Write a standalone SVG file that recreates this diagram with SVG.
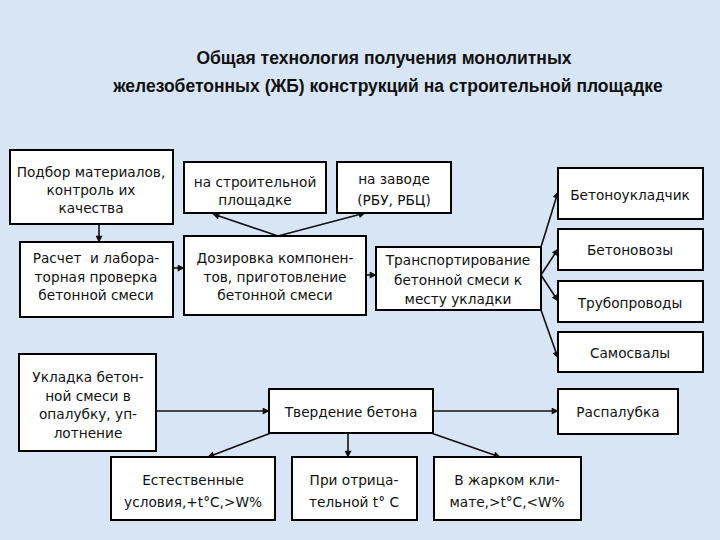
<svg xmlns="http://www.w3.org/2000/svg" width="720" height="540" viewBox="0 0 720 540">
<defs>
<style>
.bg{fill:#d8e5f4}
.box{fill:#ffffff;stroke:#000000;stroke-width:2}
.t{font-family:"DejaVu Sans","Liberation Sans",sans-serif;font-size:13.7px;fill:#111111;text-anchor:middle}
.title{font-family:"Liberation Sans","Noto Sans",sans-serif;font-size:17.5px;font-weight:bold;fill:#111111;text-anchor:middle}
.c{stroke:#111111;stroke-width:1.6;fill:none;marker-end:url(#ah)}
</style>
<marker id="ah" viewBox="0 0 10 10" refX="9" refY="5" markerWidth="8" markerHeight="7" markerUnits="userSpaceOnUse" orient="auto">
<path d="M0,0 L10,5 L0,10 z" fill="#111111"/>
</marker>
</defs>
<rect class="bg" x="0" y="0" width="720" height="540"/>
<g id="title">
<text class="title" x="384" y="64">Общая технология получения монолитных</text>
<text class="title" x="388" y="92">железобетонных (ЖБ) конструкций на строительной площадке</text>
</g>
<g id="connectors">
<line class="c" x1="99" y1="224" x2="99" y2="242"/>
<line class="c" x1="173" y1="268" x2="184" y2="268"/>
<line class="c" x1="278" y1="236" x2="213" y2="214"/>
<line class="c" x1="278" y1="236" x2="365" y2="213"/>
<line class="c" x1="366" y1="275" x2="376" y2="275"/>
<line class="c" x1="541" y1="247" x2="558" y2="192"/>
<line class="c" x1="541" y1="275" x2="558" y2="249"/>
<line class="c" x1="541" y1="275" x2="558" y2="301"/>
<line class="c" x1="541" y1="310" x2="558" y2="358"/>
<line class="c" x1="156" y1="411" x2="269" y2="411"/>
<line class="c" x1="433" y1="411" x2="558" y2="411"/>
<line class="c" x1="271" y1="433" x2="208" y2="457"/>
<line class="c" x1="348" y1="433" x2="348" y2="457"/>
<line class="c" x1="431" y1="433" x2="500" y2="457"/>
</g>
<g id="n-podbor">
<rect class="box" x="10" y="150" width="163" height="74"/>
<text class="t" x="91" y="177">Подбор материалов,</text>
<text class="t" x="91" y="195">контроль их</text>
<text class="t" x="91" y="213">качества</text>
</g>
<g id="n-raschet">
<rect class="box" x="20" y="242" width="153" height="75"/>
<text class="t" x="96" y="263">Расчет&#160; и лабора-</text>
<text class="t" x="96" y="282">торная проверка</text>
<text class="t" x="96" y="300">бетонной смеси</text>
</g>
<g id="n-stroit">
<rect class="box" x="184" y="162" width="142" height="51"/>
<text class="t" x="255" y="187">на строительной</text>
<text class="t" x="255" y="205">площадке</text>
</g>
<g id="n-zavod">
<rect class="box" x="337" y="162" width="114" height="51"/>
<text class="t" x="394" y="184">на заводе</text>
<text class="t" x="394" y="205">(РБУ, РБЦ)</text>
</g>
<g id="n-dozirovka">
<rect class="box" x="184" y="236" width="182" height="79"/>
<text class="t" x="275" y="263">Дозировка компонен-</text>
<text class="t" x="275" y="282">тов, приготовление</text>
<text class="t" x="275" y="300">бетонной смеси</text>
</g>
<g id="n-transport">
<rect class="box" x="376" y="247" width="165" height="63"/>
<text class="t" x="458" y="265">Транспортирование</text>
<text class="t" x="458" y="285">бетонной смеси к</text>
<text class="t" x="458" y="304">месту укладки</text>
</g>
<g id="n-betonoukl">
<rect class="box" x="558" y="168" width="145" height="51"/>
<text class="t" x="630" y="200">Бетоноукладчик</text>
</g>
<g id="n-betonovozy">
<rect class="box" x="558" y="229" width="145" height="41"/>
<text class="t" x="630" y="255">Бетоновозы</text>
</g>
<g id="n-truboprovody">
<rect class="box" x="558" y="281" width="145" height="41"/>
<text class="t" x="630" y="308">Трубопроводы</text>
</g>
<g id="n-samosvaly">
<rect class="box" x="558" y="332" width="145" height="40"/>
<text class="t" x="630" y="358">Самосвалы</text>
</g>
<g id="n-ukladka">
<rect class="box" x="19" y="354" width="137" height="97"/>
<text class="t" x="88" y="382">Укладка бетон-</text>
<text class="t" x="88" y="401">ной смеси в</text>
<text class="t" x="88" y="419">опалубку, уп-</text>
<text class="t" x="88" y="438">лотнение</text>
</g>
<g id="n-tverdenie">
<rect class="box" x="269" y="389" width="164" height="44"/>
<text class="t" x="351" y="417">Твердение бетона</text>
</g>
<g id="n-raspalubka">
<rect class="box" x="558" y="389" width="120" height="45"/>
<text class="t" x="618" y="417">Распалубка</text>
</g>
<g id="n-estestv">
<rect class="box" x="111" y="457" width="164" height="63"/>
<text class="t" x="193" y="485">Естественные</text>
<text class="t" x="193" y="507">условия,+t°C,&gt;W%</text>
</g>
<g id="n-otric">
<rect class="box" x="292" y="457" width="125" height="63"/>
<text class="t" x="354" y="485">При отрица-</text>
<text class="t" x="354" y="507">тельной t° C</text>
</g>
<g id="n-zhark">
<rect class="box" x="434" y="457" width="147" height="63"/>
<text class="t" x="507" y="485">В жарком кли-</text>
<text class="t" x="507" y="507">мате,&gt;t°C,&lt;W%</text>
</g>
</svg>
